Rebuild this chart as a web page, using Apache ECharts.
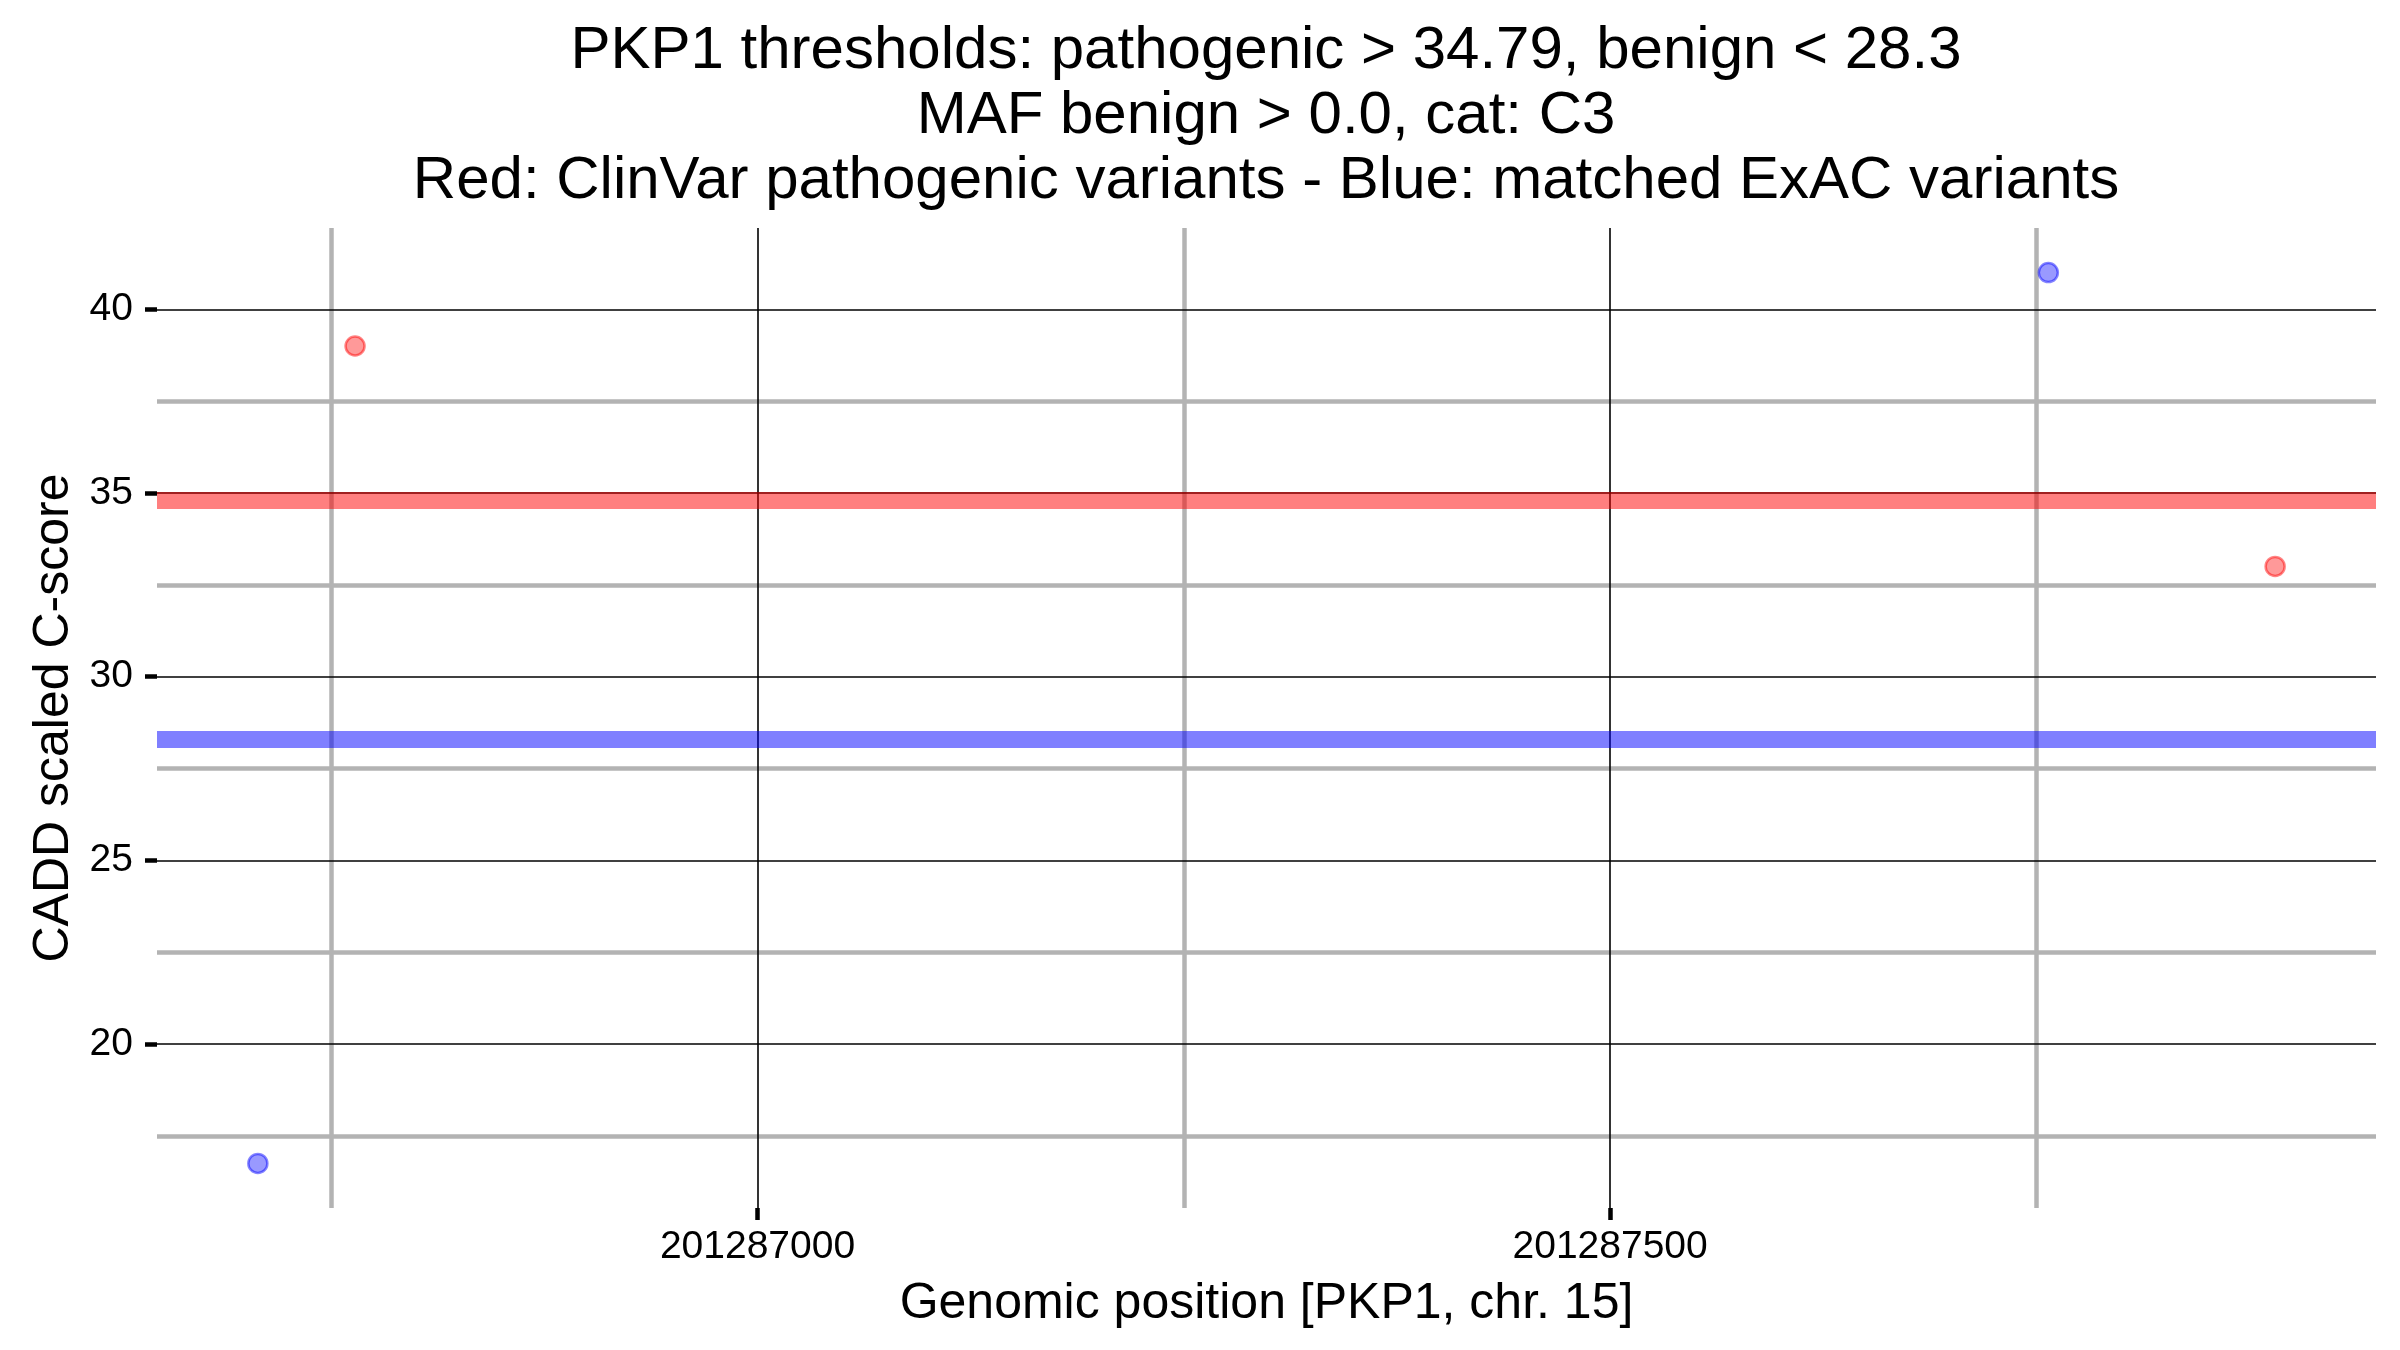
<!DOCTYPE html>
<html>
<head>
<meta charset="utf-8">
<style>
  html, body { margin: 0; padding: 0; background: #ffffff; }
  #chart { width: 2400px; height: 1350px; }
</style>
<script src="https://cdn.jsdelivr.net/npm/echarts@6/dist/echarts.min.js"></script>
</head>
<body>
<div id="chart"></div>
<script>
// ---- data ----
const titleLines = [
  'PKP1 thresholds: pathogenic > 34.79, benign < 28.3',
  'MAF benign > 0.0, cat: C3',
  'Red: ClinVar pathogenic variants - Blue: matched ExAC variants'
];
const xAxisTitle = 'Genomic position [PKP1, chr. 15]';
const yAxisTitle = 'CADD scaled C-score';

const pathogenicPos = [201286764, 201287890];
const pathogenicScore = [39, 33];
const benignPos = [201286707, 201287757];
const benignScore = [16.75, 41];

const pathogenicThreshold = 34.79;
const benignThreshold = 28.3;

const xMajorTicks = [201287000, 201287500];
const xMinorGrid = [201286750, 201287250, 201287750];
const yMajorTicks = [20, 25, 30, 35, 40];
const yMinorGrid = [17.5, 22.5, 27.5, 32.5, 37.5];

// ---- scales (ggplot-like 5% expansion of the data range) ----
function expandRange(vals) {
  const lo = Math.min.apply(null, vals), hi = Math.max.apply(null, vals);
  const pad = (hi - lo) * 0.05;
  return [lo - pad, hi + pad];
}
const xr = expandRange(pathogenicPos.concat(benignPos));
const yr = expandRange(pathogenicScore.concat(benignScore, [pathogenicThreshold, benignThreshold]));

const FONT = 'Liberation Sans, Arial, Helvetica, sans-serif';
const gridBox = { left: 157, right: 24, top: 228, bottom: 142, containLabel: false, outerBoundsMode: 'none' };

const chart = echarts.init(document.getElementById('chart'), null, { renderer: 'canvas' });

const minorStyle = { color: '#b3b3b3', width: 4.5, type: 'solid' };
const majorStyle = { color: '#000000', width: 1.6, type: 'solid' };

function vLines(vals) { return vals.map(v => ({ xAxis: v })); }
function hLines(vals) { return vals.map(v => ({ yAxis: v })); }

const option = {
  backgroundColor: '#ffffff',
  animation: false,
  title: {
    text: titleLines.join('\n'),
    left: 1266,
    top: 19,
    padding: 0,
    textAlign: 'center',
    textStyle: {
      fontFamily: FONT,
      fontSize: 60,
      fontWeight: 'normal',
      color: '#000000',
      lineHeight: 65
    }
  },
  grid: gridBox,
  xAxis: {
    type: 'value',
    min: xr[0],
    max: xr[1],
    name: xAxisTitle,
    nameLocation: 'middle',
    nameGap: 71,
    nameTextStyle: { fontFamily: FONT, fontSize: 50, color: '#000000' },
    axisLine: { show: false },
    splitLine: { show: false },
    axisTick: {
      show: true, length: 12, customValues: xMajorTicks,
      lineStyle: { color: '#000000', width: 4.5 }
    },
    axisLabel: {
      customValues: xMajorTicks,
      margin: 20,
      fontFamily: FONT, fontSize: 39, color: '#000000',
      formatter: v => String(Math.round(v))
    }
  },
  yAxis: {
    type: 'value',
    min: yr[0],
    max: yr[1],
    name: yAxisTitle,
    nameLocation: 'middle',
    nameGap: 74,
    nameTextStyle: { fontFamily: FONT, fontSize: 50, color: '#000000' },
    axisLine: { show: false },
    splitLine: { show: false },
    axisTick: {
      show: true, length: 12, customValues: yMajorTicks,
      lineStyle: { color: '#000000', width: 4.5 }
    },
    axisLabel: {
      customValues: yMajorTicks,
      margin: 24,
      fontFamily: FONT, fontSize: 39, color: '#000000',
      formatter: v => String(v)
    }
  },
  series: [
    {
      name: 'minorGrid', type: 'scatter', data: [], silent: true, z: 1,
      markLine: {
        z: 1, silent: true, symbol: ['none', 'none'], label: { show: false },
        lineStyle: minorStyle, emphasis: { disabled: true },
        data: vLines(xMinorGrid).concat(hLines(yMinorGrid))
      }
    },
    {
      name: 'majorGrid', type: 'scatter', data: [], silent: true, z: 2,
      markLine: {
        z: 2, silent: true, symbol: ['none', 'none'], label: { show: false },
        lineStyle: majorStyle, emphasis: { disabled: true },
        data: vLines(xMajorTicks).concat(hLines(yMajorTicks))
      }
    },
    {
      name: 'thresholds', type: 'scatter', data: [], silent: true, z: 3,
      markLine: {
        z: 3, silent: true, symbol: ['none', 'none'], label: { show: false },
        emphasis: { disabled: true },
        data: [
          { yAxis: pathogenicThreshold, lineStyle: { color: 'rgba(255,0,0,0.5)', width: 17, type: 'solid', cap: 'butt' } },
          { yAxis: benignThreshold, lineStyle: { color: 'rgba(0,0,255,0.5)', width: 17, type: 'solid', cap: 'butt' } }
        ]
      }
    },
    {
      name: 'ClinVar pathogenic', type: 'scatter', z: 10,
      symbol: 'circle', symbolSize: 19,
      itemStyle: { color: 'rgba(255,0,0,0.5)', borderColor: 'rgba(255,0,0,0.6)', borderWidth: 2.5 },
      data: pathogenicPos.map((x, i) => [x, pathogenicScore[i]])
    },
    {
      name: 'matched ExAC', type: 'scatter', z: 10,
      symbol: 'circle', symbolSize: 19,
      itemStyle: { color: 'rgba(0,0,255,0.5)', borderColor: 'rgba(0,0,255,0.6)', borderWidth: 2.5 },
      data: benignPos.map((x, i) => [x, benignScore[i]])
    }
  ]
};

chart.setOption(option);
</script>
</body>
</html>
